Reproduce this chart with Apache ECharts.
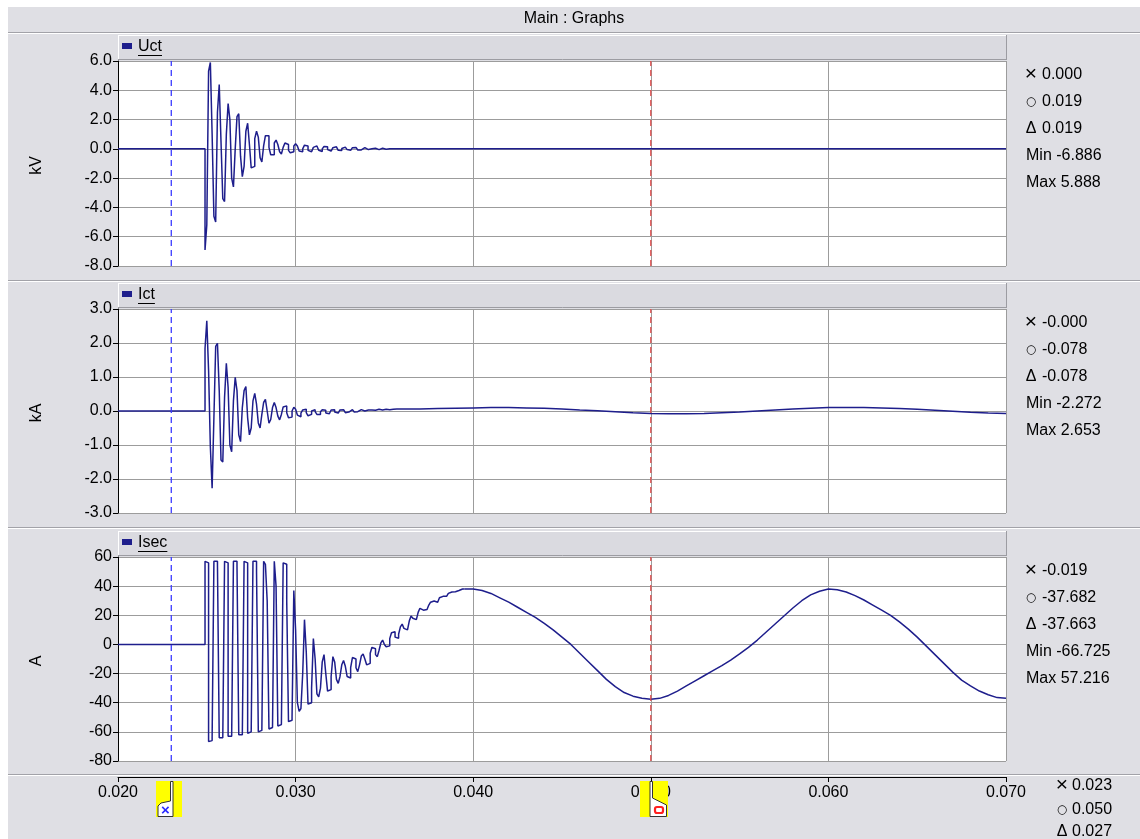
<!DOCTYPE html>
<html><head><meta charset="utf-8">
<script src="https://cdn.jsdelivr.net/npm/echarts@6/dist/echarts.min.js"></script>
<style>html,body{margin:0;padding:0;background:#fff;}#c{width:1140px;height:839px;}</style>
</head><body><div id="c"></div>
<script>
// ---------------- DATA ----------------
const timeRange = [0.020, 0.070];
const timeInterval = 0.010;
const uctAxis = [-8, 6, 2];
const ictAxis = [-3, 3, 1];
const isecAxis = [-80, 60, 20];
const panelNames = ['Uct', 'Ict', 'Isec'];
const unitNames = ['kV', 'kA', 'A'];
const cursorTimes = [0.023, 0.050];           // X cursor, O cursor
const preFaultTimes = [0.020];
const preFaultValues = [0.0];

// burst region: samples from burstStart every burstStep
const burstStart = 0.0249;
const burstStep = 0.0001;

const uctBurst = [
  -6.9, -5.2, 5.3, 5.9, 1.0, -4.6, -5.0, 2.5, 4.4, 0.5,
  -3.4, -3.6, 1.0, 3.1, 2.0, -2.0, -2.6, 0.0, 2.2, 2.4,
  -0.5, -1.9, -1.2, 1.2, 1.75, 0.3, -1.3, -1.2, 0.7, 1.2,
  0.8, -0.6, -0.9, 0.2, 0.9, 0.9, 0.1, -0.4, -0.4, 0.4,
  0.6, 0.3, -0.2, -0.35, 0.1, 0.4, 0.3, -0.1, -0.27, -0.2,
  0.2, 0.35, 0.2, -0.15, -0.2, 0.0, 0.25, 0.2, -0.1, -0.2,
  -0.12, 0.1, 0.2, 0.12, -0.1, -0.18, 0.0, 0.16, 0.14, -0.05,
  -0.15, -0.1, 0.08, 0.14, 0.06, -0.1, -0.12, 0.02, 0.12, 0.1,
  -0.05, -0.1, -0.04, 0.08, 0.1, 0.0, -0.08, -0.07, 0.04, 0.08,
  0.04, -0.05, -0.06, 0.0, 0.06, 0.04, -0.03, -0.05, 0.0, 0.04,
  0.03, -0.03, -0.03, 0.01, 0.02, 0.0
];
const uctTailTimes = [0.0360, 0.0700];
const uctTail = [0.0, 0.0];

const ictBurst = [
  1.84, 2.65, 1.2, -1.05, -2.27, -0.2, 1.9, 1.99, 0.6, -1.44,
  -1.5, 0.4, 1.4, 0.7, -1.0, -1.2, 0.3, 0.99, 0.6, -0.7,
  -0.9, 0.1, 0.6, 0.72, -0.2, -0.7, -0.5, 0.3, 0.52, 0.2,
  -0.35, -0.5, -0.1, 0.25, 0.34, 0.0, -0.36, -0.25, 0.1, 0.25,
  0.1, -0.15, -0.26, -0.1, 0.12, 0.15, -0.05, -0.2, -0.18, 0.0,
  0.11, 0.05, -0.12, -0.17, -0.06, 0.03, 0.05, -0.05, -0.14, -0.1,
  0.0, 0.04, -0.02, -0.1, -0.1, -0.02, 0.04, 0.02, -0.06, -0.08,
  -0.03, 0.03, 0.04, -0.03, -0.06, -0.03, 0.03, 0.04, 0.0, -0.05,
  -0.03, 0.02, 0.04, 0.02, -0.03, -0.02, 0.02, 0.04, 0.03, 0.0,
  0.0, 0.03, 0.04, 0.03, 0.02, 0.02, 0.04, 0.05, 0.04, 0.03,
  0.04, 0.05, 0.05, 0.04, 0.05, 0.05, 0.05, 0.06, 0.06, 0.06, 0.06
];
const ictTailTimes = [
  0.036, 0.037, 0.038, 0.039, 0.040, 0.041, 0.042, 0.043, 0.044, 0.045,
  0.046, 0.047, 0.048, 0.049, 0.050, 0.051, 0.052, 0.053, 0.054, 0.055,
  0.056, 0.057, 0.058, 0.059, 0.060, 0.061, 0.062, 0.063, 0.064, 0.065,
  0.066, 0.067, 0.068, 0.069, 0.070
];
const ictTail = [
  0.06, 0.07, 0.08, 0.09, 0.10, 0.10, 0.09, 0.08, 0.06, 0.03,
  0.01, -0.02, -0.05, -0.07, -0.08, -0.08, -0.07, -0.05, -0.03, 0.0,
  0.03, 0.06, 0.08, 0.10, 0.10, 0.10, 0.09, 0.07, 0.05, 0.02,
  -0.01, -0.04, -0.06, -0.07, -0.08
];

const isecBurst = [
  57, 56, -66.7, -66, -64,
  57, 57, 55, -64, -64, -63,
  57, 56, -63, -63, -62,
  57, 57, 54, -62, -62, -61,
  57, 56, -61, -60, -60,
  57, 57, 50, -60, -59, -58,
  57, 55, 30, -58, -57, -56,
  57, 40, -56, -55, -54,
  56, 55, 30, -53, -52, -50,
  37, 10, -40, -46, -44, -20, 17, -5, -41, -40,
  -30, 4, -10, -34, -36, -30, -12, -7, -20, -32,
  -31, -22, -8.4, -12, -24, -26.7, -22, -14, -11, -15,
  -22, -23, -16, -9, -10, -16, -18.7, -14, -8, -6.6,
  -10, -14, -13, -6, -2, -3, -7, -8.4, -4, 1,
  3, 0, -1.6, -1, 4, 8, 8.7, 5, 4.2, 7,
  12, 14, 11, 10, 11, 16, 19.5, 18, 17, 18,
  22, 24.8, 23.5, 23, 24, 25, 27, 29, 29.8, 29,
  29, 30, 32, 33, 33.2, 33, 33.5, 35, 36, 36.2,
  36.2, 36.5, 37, 37.5, 38, 38, 38
];
const isecTailTimes = [
  0.0395, 0.0400, 0.0405, 0.0410, 0.0415, 0.0420, 0.0425, 0.0430, 0.0435, 0.0440,
  0.0445, 0.0450, 0.0455, 0.0460, 0.0465, 0.0470, 0.0475, 0.0480, 0.0485, 0.0490,
  0.0495, 0.0500, 0.0505, 0.0510, 0.0515, 0.0520, 0.0525, 0.0530, 0.0535, 0.0540,
  0.0545, 0.0550, 0.0555, 0.0560, 0.0565, 0.0570, 0.0575, 0.0580, 0.0585, 0.0590,
  0.0595, 0.0600, 0.0605, 0.0610, 0.0615, 0.0620, 0.0625, 0.0630, 0.0635, 0.0640,
  0.0645, 0.0650, 0.0655, 0.0660, 0.0665, 0.0670, 0.0675, 0.0680, 0.0685, 0.0690,
  0.0695, 0.0700
];
const isecTail = [
  38, 38, 37, 35, 32, 29, 25.5, 22, 18.5, 14.5,
  10, 5, 0, -6, -12, -18, -24, -29, -33, -35.5,
  -37, -37.7, -37, -35, -32, -28.5, -25, -21.5, -18, -14.5,
  -10.7, -6.5, -2, 3, 8.5, 14, 19.5, 25, 30, 34,
  36.5, 38, 37.5, 36, 33.5, 30.5, 27, 23.5, 20, 15.5,
  10.5, 5, -1, -7, -13, -19, -24.5, -28.5, -32, -34.5,
  -36.5, -37
];

// readouts (text shown at the right)
const readoutSymbols = ['\u00D7', '\u25CB', '\u0394'];
const uctReadout = ['0.000', '0.019', '0.019', '-6.886', '5.888'];
const ictReadout = ['-0.000', '-0.078', '-0.078', '-2.272', '2.653'];
const isecReadout = ['-0.019', '-37.682', '-37.663', '-66.725', '57.216'];
const timeReadout = ['0.023', '0.050', '0.027'];
const titleText = 'Main : Graphs';

// ---------------- LAYOUT ----------------
const FONT = "'Liberation Sans', Arial, sans-serif";
const TRACE = '#1e1e8c';
const BG = '#dfdfe4';
const STRIP = '#dadae0';
const GRIDC = '#9c9c9c';
const plotLeft = 118, plotW = 888;
const plotTops = [61, 309, 557];
const plotH = [205, 204, 204];
const axisTop = 777;

function burstPairs(vals) { return vals.map((v, i) => [burstStart + i * burstStep, v]); }
function pairs(ts, vs) { return ts.map((t, i) => [t, vs[i]]); }

const uctData = pairs(preFaultTimes, preFaultValues).concat(burstPairs(uctBurst), pairs(uctTailTimes, uctTail));
const ictData = pairs(preFaultTimes, preFaultValues).concat(burstPairs(ictBurst), pairs(ictTailTimes, ictTail));
const isecData = pairs(preFaultTimes, preFaultValues).concat(burstPairs(isecBurst));
const isecTailData = pairs(isecTailTimes, isecTail);

const axesY = [uctAxis, ictAxis, isecAxis];
const grids = plotTops.map((t, i) => ({ left: plotLeft, top: t, width: plotW, height: plotH[i], show: true, backgroundColor: '#ffffff', borderWidth: 0 }));
grids.push({ left: plotLeft, top: axisTop - 1, width: plotW, height: 1, show: false });

const xAxes = [0, 1, 2].map(i => ({
  type: 'value', gridIndex: i, min: timeRange[0], max: timeRange[1], interval: timeInterval,
  axisLine: { show: false }, axisTick: { show: false }, axisLabel: { show: false },
  splitLine: { show: true, lineStyle: { color: GRIDC, width: 1 } }
}));
xAxes.push({
  type: 'value', gridIndex: 3, min: timeRange[0], max: timeRange[1], interval: timeInterval, position: 'bottom',
  axisLine: { show: true, lineStyle: { color: '#000', width: 1 } },
  axisTick: { show: true, length: 5, lineStyle: { color: '#000' } },
  axisLabel: { show: true, color: '#000', fontSize: 16, fontFamily: FONT, margin: 8, formatter: v => v.toFixed(3) },
  splitLine: { show: false }
});
const yAxes = axesY.map((a, i) => ({
  type: 'value', gridIndex: i, min: a[0], max: a[1], interval: a[2],
  axisLine: { show: true, lineStyle: { color: '#000', width: 1 } },
  axisTick: { show: true, length: 5, lineStyle: { color: '#000' } },
  axisLabel: { color: '#000', fontSize: 16, fontFamily: FONT, margin: 6,
    formatter: v => (i < 2 ? v.toFixed(1) : String(Math.round(v))) },
  splitLine: { show: true, lineStyle: { color: GRIDC, width: 1 } }
}));
yAxes.push({ type: 'value', gridIndex: 3, min: 0, max: 1, show: false });

function lineSeries(name, idx, data, step) {
  return { name, type: 'line', xAxisIndex: idx, yAxisIndex: idx, data, showSymbol: false, symbol: 'none',
    step: step ? 'end' : false, lineStyle: { color: TRACE, width: 1.5 }, animation: false, silent: true, z: 3 };
}
function cursorSeries(idx, t, color) {
  const a = axesY[idx];
  return { type: 'line', xAxisIndex: idx, yAxisIndex: idx, data: [[t, a[0]], [t, a[1]]], showSymbol: false, symbol: 'none',
    lineStyle: { color, width: 1.3, type: [6, 4] }, animation: false, silent: true, z: 4 };
}
const series = [
  lineSeries(panelNames[0], 0, uctData, true),
  lineSeries(panelNames[1], 1, ictData, true),
  lineSeries(panelNames[2], 2, isecData, true),
  lineSeries(panelNames[2], 2, isecTailData, false)
];
[0, 1, 2].forEach(i => {
  series.push(cursorSeries(i, cursorTimes[0], '#3b3bff'));
  series.push(cursorSeries(i, cursorTimes[1], '#e04a4a'));
});

// ---------------- STATIC GRAPHICS ----------------
const g = [];
g.push({ type: 'rect', shape: { x: 0, y: 0, width: 1140, height: 7 }, style: { fill: '#fff' }, silent: true });
g.push({ type: 'rect', shape: { x: 0, y: 0, width: 8, height: 839 }, style: { fill: '#fff' }, silent: true });
g.push({ type: 'text', x: 574, y: 19, style: { text: titleText, fill: '#000', font: '16px ' + FONT, textAlign: 'center', textVerticalAlign: 'middle' }, silent: true });
[32, 280, 527, 774].forEach(y => {
  g.push({ type: 'line', shape: { x1: 8, y1: y + 0.5, x2: 1140, y2: y + 0.5 }, style: { stroke: '#a2a2a8', lineWidth: 1 }, silent: true });
  g.push({ type: 'line', shape: { x1: 8, y1: y + 1.5, x2: 1140, y2: y + 1.5 }, style: { stroke: '#ffffff', lineWidth: 1 }, silent: true });
});
const measureCtx = document.createElement('canvas').getContext('2d');
measureCtx.font = '16px ' + FONT;
const readouts = [uctReadout, ictReadout, isecReadout];
function symbolText(x, y, j) {
  const font = j === 0 ? '21px ' + FONT : j === 1 ? "12px 'DejaVu Sans', " + FONT : '16px ' + FONT;
  return { type: 'text', x, y: j === 0 ? y - 1 : y, style: { text: readoutSymbols[j], fill: '#000', font,
    textAlign: 'center', textVerticalAlign: 'middle' }, silent: true };
}
plotTops.forEach((t, i) => {
  const sy = t - 26;
  g.push({ type: 'rect', shape: { x: plotLeft, y: sy, width: plotW, height: 25 }, style: { fill: STRIP }, silent: true });
  g.push({ type: 'line', shape: { x1: plotLeft, y1: sy + 0.5, x2: plotLeft + plotW, y2: sy + 0.5 }, style: { stroke: '#ffffff', lineWidth: 1 }, silent: true });
  g.push({ type: 'line', shape: { x1: plotLeft + 0.5, y1: sy, x2: plotLeft + 0.5, y2: sy + 25 }, style: { stroke: '#ffffff', lineWidth: 1 }, silent: true });
  g.push({ type: 'line', shape: { x1: plotLeft, y1: sy + 24.5, x2: plotLeft + plotW + 1, y2: sy + 24.5 }, style: { stroke: '#9c9ca2', lineWidth: 1 }, silent: true });
  g.push({ type: 'line', shape: { x1: plotLeft + plotW + 0.5, y1: sy, x2: plotLeft + plotW + 0.5, y2: sy + 25 }, style: { stroke: '#9c9ca2', lineWidth: 1 }, silent: true });
  g.push({ type: 'rect', shape: { x: 122, y: sy + 8, width: 10, height: 6 }, style: { fill: TRACE }, silent: true });
  const w = measureCtx.measureText(panelNames[i]).width;
  g.push({ type: 'text', x: 138, y: sy + 12, style: { text: panelNames[i], fill: '#000', font: '16px ' + FONT, textVerticalAlign: 'middle' }, silent: true });
  g.push({ type: 'line', shape: { x1: 138, y1: sy + 20.5, x2: 138 + w, y2: sy + 20.5 }, style: { stroke: '#000', lineWidth: 1 }, silent: true });
  g.push({ type: 'text', x: 37, y: t + plotH[i] / 2 + 2, rotation: Math.PI / 2,
    style: { text: unitNames[i], fill: '#000', font: '16px ' + FONT, textAlign: 'center', textVerticalAlign: 'middle' }, silent: true });
  const r = readouts[i];
  for (let j = 0; j < 5; j++) {
    const y = t + 14 + j * 27;
    if (j < 3) {
      g.push(symbolText(1031, y, j));
      g.push({ type: 'text', x: 1042, y, style: { text: r[j], fill: '#000', font: '16px ' + FONT, textVerticalAlign: 'middle' }, silent: true });
    } else {
      g.push({ type: 'text', x: 1026, y, style: { text: (j === 3 ? 'Min ' : 'Max ') + r[j], fill: '#000', font: '16px ' + FONT, textVerticalAlign: 'middle' }, silent: true });
    }
  }
});
[786, 810, 832].forEach((y, j) => {
  g.push(symbolText(1062, y, j));
  g.push({ type: 'text', x: 1072, y, style: { text: timeReadout[j], fill: '#000', font: '16px ' + FONT, textVerticalAlign: 'middle' }, silent: true });
});

const chart = echarts.init(document.getElementById('c'), null, { renderer: 'canvas' });
chart.setOption({
  backgroundColor: BG, animation: false,
  grid: grids, xAxis: xAxes, yAxis: yAxes, series, graphic: { elements: g }
});

// cursor flags on the bottom time axis, placed through the axis scale
const px = cursorTimes.map(t => chart.convertToPixel({ xAxisIndex: 3 }, t));
const flags = [];
const a = Math.round(px[0]);
flags.push({ type: 'rect', z: 100, shape: { x: a - 15, y: 781, width: 26, height: 36 }, style: { fill: '#ffff00' }, silent: true });
flags.push({ type: 'polygon', z: 101, shape: { points: [[a - 0.5, 781.5], [a + 2, 781.5], [a + 2, 816.5], [a - 13, 816.5], [a - 13, 806], [a - 10, 803], [a - 0.5, 801]] },
  style: { fill: '#ffffff', stroke: '#333', lineWidth: 1 }, silent: true });
flags.push({ type: 'text', z: 102, x: a - 5.5, y: 811, style: { text: '\u00D7', fill: '#2a2aff', font: 'bold 15px ' + FONT, textAlign: 'center', textVerticalAlign: 'middle' }, silent: true });
const b = Math.round(px[1]);
flags.push({ type: 'rect', z: 100, shape: { x: b - 11, y: 781, width: 28, height: 36 }, style: { fill: '#ffff00' }, silent: true });
flags.push({ type: 'polygon', z: 101, shape: { points: [[b - 1, 781.5], [b + 1.5, 781.5], [b + 1.5, 798], [b + 15.5, 805], [b + 15.5, 816.5], [b - 1, 816.5]] },
  style: { fill: '#ffffff', stroke: '#333', lineWidth: 1 }, silent: true });
flags.push({ type: 'rect', z: 102, shape: { x: b + 4, y: 807, width: 8, height: 6, r: 2 }, style: { fill: 'none', stroke: '#ff2020', lineWidth: 2.2 }, silent: true });
chart.setOption({ graphic: { elements: g.concat(flags) } });
</script>
</body></html>
